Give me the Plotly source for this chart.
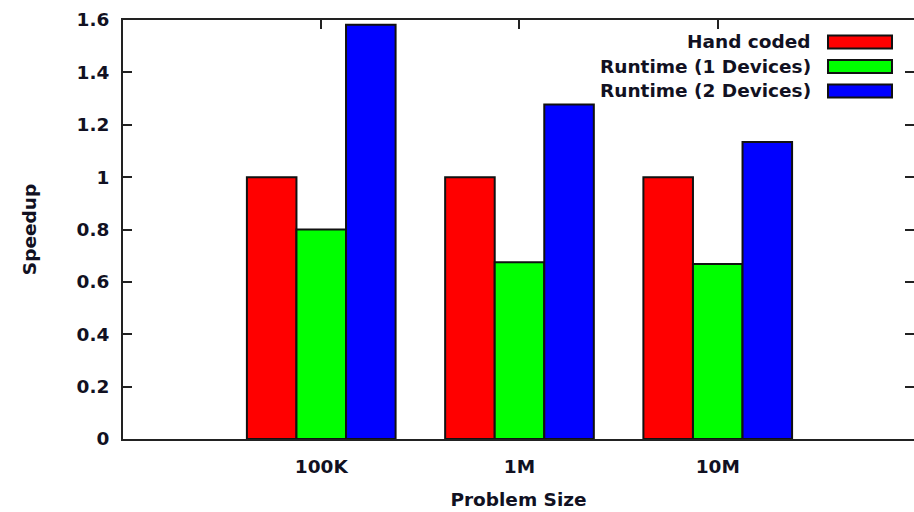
import plotly.graph_objects as go

categories = ["100K", "1M", "10M"]
series_names = ["Hand coded", "Runtime (1 Devices)", "Runtime (2 Devices)"]
hand_coded = [1.0, 1.0, 1.0]
runtime_1dev = [0.80, 0.675, 0.668]
runtime_2dev = [1.582, 1.277, 1.134]
series_values = [hand_coded, runtime_1dev, runtime_2dev]
series_colors = ["#ff0000", "#00ff00", "#0000ff"]
y_ticks = [0, 0.2, 0.4, 0.6, 0.8, 1.0, 1.2, 1.4, 1.6]
y_tick_text = ["0", "0.2", "0.4", "0.6", "0.8", "1", "1.2", "1.4", "1.6"]

W, H = 914, 512
L, R, T, B = 123, 0, 20, 73
pw, ph = W - L - R, H - T - B

FONT = dict(family="DejaVu Sans", size=18.5, color="#111122", weight="bold")

fig = go.Figure()
for name, vals, col in zip(series_names, series_values, series_colors):
    fig.add_trace(go.Bar(x=categories, y=vals, name=name,
                         marker=dict(color=col, line=dict(color="#111", width=2)),
                         showlegend=False))

# manual gnuplot-style legend (text left of swatch)
def px_x(p):
    return (p - L) / pw
def px_y(p):
    return 1 - (p - T) / ph

for i, (name, col) in enumerate(zip(series_names, series_colors)):
    cy = 42 + i * 24.5
    fig.add_annotation(xref="paper", yref="paper", x=px_x(813), y=px_y(cy),
                       text=name, showarrow=False, xanchor="right", yanchor="middle",
                       font=FONT)
    fig.add_shape(type="rect", xref="paper", yref="paper",
                  x0=px_x(828), x1=px_x(892), y0=px_y(cy - 6.5), y1=px_y(cy + 6.5),
                  fillcolor=col, line=dict(color="#111", width=2))

fig.update_layout(
    width=W, height=H,
    margin=dict(l=L, r=R, t=T, b=B, autoexpand=False),
    plot_bgcolor="white", paper_bgcolor="white",
    barmode="group", bargap=0.25, bargroupgap=0,
    font=FONT,
    xaxis=dict(type="category", range=[-1, 2.99], showline=True, linecolor="#222",
               linewidth=2, mirror="ticks", ticks="inside", ticklen=9, tickwidth=2,
               tickcolor="#222", layer="below traces", showgrid=False, zeroline=False,
               ticklabelstandoff=10,
               title=dict(text="Problem Size", font=FONT, standoff=17)),
    yaxis=dict(range=[0, 1.6], tickvals=y_ticks, ticktext=y_tick_text,
               showline=True, linecolor="#222", linewidth=2, mirror=False,
               ticks="inside", ticklen=9, tickwidth=2, tickcolor="#222",
               showgrid=False, zeroline=False, ticklabelstandoff=8,
               title=dict(text="Speedup", font=FONT, standoff=35)),
    yaxis2=dict(range=[0, 1.6], tickvals=y_ticks, overlaying="y", side="right",
                showline=False, ticks="inside", ticklen=9, tickwidth=2,
                tickcolor="#222", showticklabels=False, showgrid=False, zeroline=False),
)
# dummy trace to activate yaxis2
fig.add_trace(go.Scatter(x=categories, y=hand_coded, yaxis="y2", mode="none",
                         showlegend=False, hoverinfo="skip"))

fig.write_html("out.html")
